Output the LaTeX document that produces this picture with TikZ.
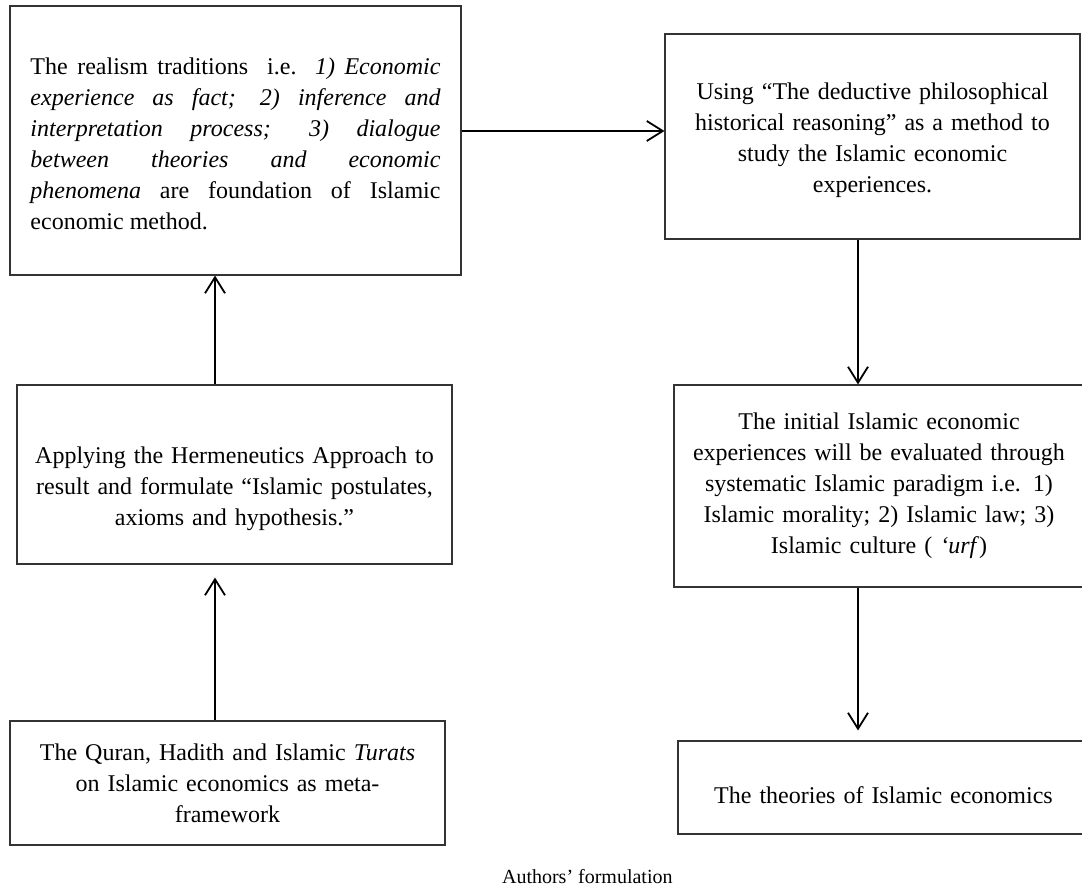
\documentclass[tikz,border=0pt]{standalone}
\usepackage{fontspec}
\setmainfont{Liberation Serif}
\usetikzlibrary{arrows.meta, positioning}

\begin{document}
\begin{tikzpicture}[x=0.5pt, y=-0.5pt,
  box/.style={draw=black!80, line width=0.55pt, inner sep=0pt, align=center,
    font=\fontsize{12pt}{15.5pt}\selectfont},
  arr/.style={-{Straight Barb[length=8pt, width=10pt]}, line width=0.9pt}]

\useasboundingbox (0,0) rectangle (1082,888);
\clip (0,0) rectangle (1082,888);

% boxes, left column
\node[box, minimum width=225.5pt, minimum height=134.5pt, text width=205pt, align=justify, text height=11.5pt] (realism) at (235.5,140.5)
  {The realism traditions\ \ i.e. \textit{1) Economic\linebreak experience as fact; 2) inference and\linebreak interpretation process; 3) dialogue\linebreak between theories and economic\linebreak phenomena} are foundation of Islamic\linebreak economic method.};
\node[box, minimum width=217.5pt, minimum height=89.5pt, text width=210pt, text height=22.5pt] (herm) at (234.5,474.5)
  {Applying the Hermeneutics Approach to\\ result and formulate “Islamic postulates,\\ axioms and hypothesis.”};
\node[box, minimum width=217.5pt, minimum height=62pt, text width=210pt] (quran) at (227.5,783)
  {The Quran, Hadith and Islamic \textit{Turats}\\ on Islamic economics as meta-\\ framework};

% boxes, right column
\node[box, minimum width=207.5pt, minimum height=102.5pt, text width=200pt, text height=12pt] (deduct) at (872.5,136.5)
  {Using “The deductive philosophical\\ historical reasoning” as a method to\\ study the Islamic economic\\ experiences.};
\node[box, minimum width=205pt, minimum height=101pt, text width=200pt] (initial) at (879,486)
  {The initial Islamic economic\\ experiences will be evaluated through\\ systematic Islamic paradigm i.e. 1)\\ Islamic morality; 2) Islamic law; 3)\\ Islamic culture ( \textit{‘urf})};
\node[box, minimum width=205.5pt, minimum height=46.5pt, text width=200pt, text height=16.5pt] (theory) at (883.5,787.5)
  {The theories of Islamic economics};

\node[anchor=base west, font=\fontsize{10pt}{12pt}\selectfont] (source) at (495,883) {Authors’ formulation};

% arrow lanes
\coordinate (laneL) at (215,0);
\coordinate (laneR) at (858,0);
\coordinate (laneT) at (0,131);

\draw[arr] (realism.east |- laneT) -- (deduct.west |- laneT);
\draw[arr] (herm.north -| laneL) -- (realism.south -| laneL);
\draw[arr, shorten >=6.5pt] (quran.north -| laneL) -- (herm.south -| laneL);
\draw[arr] (deduct.south -| laneR) -- (initial.north -| laneR);
\draw[arr, shorten >=5pt] (initial.south -| laneR) -- (theory.north -| laneR);

\end{tikzpicture}
\end{document}
